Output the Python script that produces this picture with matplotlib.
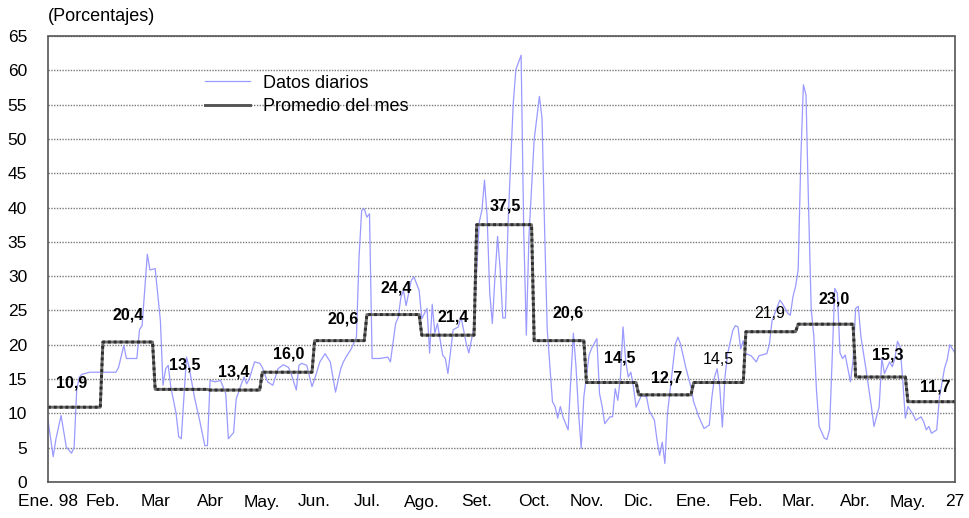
import numpy as np
import matplotlib.pyplot as plt

plt.rcParams['font.family'] = ['Liberation Sans', 'DejaVu Sans']

# Datos diarios (indice de dia habil, porcentaje)
dias = [0, 2, 3, 5, 7, 9, 10, 11, 12, 13, 16, 20, 26, 27, 29, 30, 34, 35, 36, 38,
        39, 41, 43, 44, 45, 46, 47, 49, 50, 51, 52, 53, 54, 56, 58, 60, 61, 62, 64, 66,
        68, 69, 71, 72, 74, 75, 76, 77, 79, 81, 82, 84, 86, 88, 90, 92, 93, 95, 96, 97,
        99, 101, 102, 104, 106, 108, 109, 110, 112, 113, 114, 116, 118, 119, 120, 121, 122, 123, 124, 127,
        130, 131, 133, 134, 135, 136, 137, 139, 140, 142, 143, 145, 146, 147, 148, 149, 151, 152, 153, 155,
        157, 158, 160, 161, 163, 164, 165, 166, 167, 168, 169, 170, 171, 172, 173, 174, 175, 176, 178, 179,
        181, 182, 183, 184, 186, 188, 189, 190, 191, 193, 194, 195, 196, 197, 199, 200, 201, 202, 203, 204,
        205, 207, 208, 210, 211, 212, 213, 215, 216, 217, 218, 219, 220, 221, 222, 223, 224, 225, 227, 229,
        230, 232, 233, 234, 235, 236, 237, 239, 240, 241, 242, 244, 246, 247, 249, 251, 253, 254, 255, 256,
        257, 258, 259, 260, 262, 263, 264, 265, 266, 267, 269, 271, 272, 275, 276, 277, 280, 281, 283, 284,
        285, 286, 287, 288, 289, 290, 291, 292, 293, 294, 295, 297, 298, 299, 300, 301, 302, 303, 304, 305,
        307, 308, 309, 310, 311, 313, 315, 316, 318, 319, 320, 322, 323, 324, 325, 326, 327, 328, 329, 331,
        332, 334, 335, 336, 337, 338, 340, 341, 343, 344, 345, 347]
diarios = [9.0, 3.7, 6.2, 9.7, 5.1, 4.2, 5.1, 13.6, 15.3, 15.7, 16.0, 16.0, 16.0, 16.7, 19.9, 18.0, 18.0, 22.2, 22.8, 33.2,
           30.9, 31.1, 23.5, 14.1, 16.5, 17.0, 13.8, 10.0, 6.6, 6.3, 12.4, 18.2, 16.7, 12.4, 9.0, 5.3, 5.3, 14.8, 14.6, 14.8,
           12.9, 6.3, 7.2, 12.1, 14.3, 15.3, 14.3, 15.0, 17.5, 17.3, 16.7, 14.6, 14.1, 16.5, 17.1, 16.7, 15.8, 13.4, 17.0, 17.3,
           17.0, 13.9, 15.0, 17.5, 18.7, 17.5, 15.3, 13.1, 16.5, 17.5, 18.2, 19.4, 21.1, 32.8, 39.6, 39.8, 38.6, 39.1, 18.0, 18.0,
           18.2, 17.5, 23.1, 24.0, 26.9, 27.9, 25.7, 29.4, 29.9, 27.9, 23.8, 25.3, 18.8, 25.9, 21.7, 23.1, 18.5, 18.0, 15.8, 22.2,
           22.6, 24.1, 20.2, 18.8, 22.6, 30.9, 37.9, 39.6, 44.0, 38.7, 27.5, 23.1, 29.9, 35.8, 30.9, 23.9, 23.9, 37.7, 55.2, 60.1,
           62.2, 36.7, 21.4, 35.8, 49.9, 56.2, 53.0, 36.7, 22.2, 11.7, 11.0, 9.3, 11.0, 9.5, 7.6, 14.9, 21.7, 16.8, 10.0, 4.9,
           12.4, 18.5, 19.5, 20.9, 12.9, 11.0, 8.5, 9.5, 9.5, 13.6, 11.9, 15.3, 22.6, 17.7, 15.3, 16.0, 13.8, 10.9, 12.6, 12.4,
           10.4, 9.0, 6.1, 3.9, 5.8, 2.7, 10.0, 16.7, 20.1, 21.1, 20.1, 16.7, 13.8, 11.7, 9.5, 7.8, 8.3, 12.4, 15.3, 16.5,
           13.8, 8.0, 15.3, 18.7, 22.1, 22.8, 22.6, 19.4, 20.6, 18.7, 18.4, 17.5, 18.4, 18.7, 20.1, 23.5, 26.5, 26.0, 24.6, 24.3,
           27.0, 28.5, 30.9, 46.9, 57.9, 56.4, 39.7, 25.1, 21.2, 13.4, 8.1, 6.4, 6.2, 7.6, 17.8, 28.2, 27.5, 18.8, 18.0, 18.5,
           14.6, 17.8, 25.3, 25.6, 21.2, 16.3, 11.0, 8.1, 11.0, 18.0, 15.8, 17.5, 16.8, 18.0, 20.5, 19.7, 14.9, 9.3, 11.0, 9.8,
           9.0, 9.5, 8.8, 7.6, 8.1, 7.1, 7.6, 12.2, 16.6, 17.8, 20.0, 18.8]

# Promedio del mes
inicio_mes = [0, 21, 41, 62, 82, 102, 122, 143, 164, 186, 206, 226, 247, 267, 287, 309, 329]
fin_serie = 347
promedios = [10.9, 20.4, 13.5, 13.4, 16.0, 20.6, 24.4, 21.4, 37.5, 20.6, 14.5, 12.7, 14.5, 21.9, 23.0, 15.3, 11.7]
etiquetas_mes = ["Ene. 98", "Feb.", "Mar", "Abr", "May.", "Jun.", "Jul.", "Ago.", "Set.", "Oct.",
                 "Nov.", "Dic.", "Ene.", "Feb.", "Mar.", "Abr.", "May.", "27"]
negrita = [True, True, True, True, True, True, True, True, True, True,
           True, True, False, False, True, True, True]

# posicion de los rotulos de promedio
rot_x = [9.2, 30.6, 52.4, 71.2, 92.2, 112.9, 133.1, 154.9, 174.8, 198.9, 218.8, 236.8, 256.3, 276.0, 300.7, 321.4, 339.3]
rot_y = [14.4, 24.3, 17.0, 16.0, 18.6, 23.8, 28.3, 24.0, 40.2, 24.7, 18.0, 15.2, 17.8, 24.5, 26.7, 18.5, 13.9]

# escalera del promedio mensual
fines = [s - 1 for s in inicio_mes[1:]] + [fin_serie]
paso_x, paso_y = [], []
for ini, fin, val in zip(inicio_mes, fines, promedios):
    paso_x += [ini, fin]
    paso_y += [val, val]

fig = plt.figure(figsize=(9.69, 5.18), dpi=100)
ax = fig.add_axes([48 / 969, 36 / 518, 907 / 969, 446 / 518])

ax.plot(dias, diarios, color='#9a9aff', lw=0.9, label='Datos diarios')
ax.plot(paso_x, paso_y, color='#6e6e6e', lw=2.1, solid_capstyle='butt')
ax.plot(paso_x, paso_y, color='#2e2e2e', lw=2.1, ls=(0, (1, 1)))
# handle de leyenda para el promedio
ax.plot([], [], color='#555555', lw=2.1, label='Promedio del mes')

for x, y, v, b in zip(rot_x, rot_y, promedios, negrita):
    ax.text(x, y, f"{v:.1f}".replace('.', ','), ha='center', va='center',
            fontsize=11.5, fontweight='bold' if b else 'normal')

ax.set_xlim(0, fin_serie)
ax.set_ylim(0, 65)
ax.set_yticks(np.arange(0, 66, 5))
ax.set_xticks(inicio_mes + [fin_serie])
ax.set_xticklabels(etiquetas_mes)
ax.tick_params(axis='both', length=0, labelsize=12.5)
ax.tick_params(axis='y', pad=15)
ax.tick_params(axis='x', pad=9)
ax.grid(axis='y', color='#7a7a7a', lw=1, ls=(0, (1, 1)))
ax.set_axisbelow(True)
for sp in ax.spines.values():
    sp.set_color('#555555')
    sp.set_linestyle((0, (1, 1)))
    sp.set_linewidth(1.2)

ax.text(0, 1.025, '(Porcentajes)', transform=ax.transAxes, fontsize=13, ha='left', va='bottom')

ax.legend(loc='upper left', bbox_to_anchor=(0.155, 0.95), frameon=False, fontsize=13,
          handlelength=2.5, handletextpad=0.7, labelspacing=0.35)

fig.savefig('out.png', dpi=100)
